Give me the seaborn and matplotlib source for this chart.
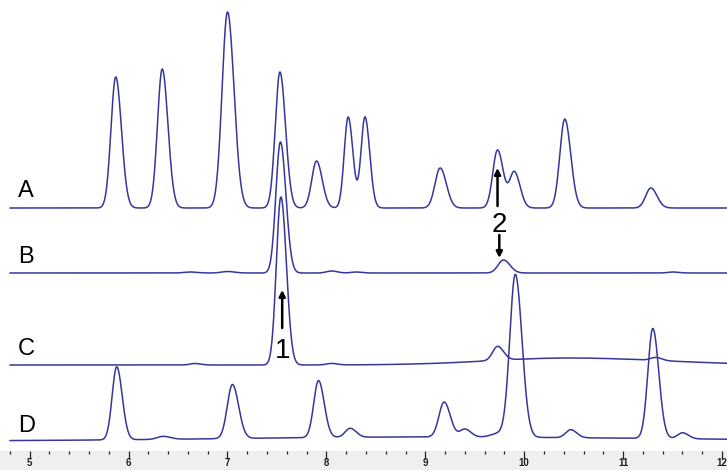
import numpy as np
import pandas as pd
import matplotlib.pyplot as plt
import seaborn as sns
from matplotlib.ticker import MultipleLocator

# peaks: retention time (min), height, width (min)
A_pos = [5.87, 6.34, 7.00, 7.53, 7.90, 8.22, 8.39, 9.15, 9.73, 9.90, 10.41, 11.28]
A_height = [131, 139, 196, 136, 47, 91, 91, 40, 58, 36, 89, 20]
A_width = [0.048, 0.048, 0.055, 0.047, 0.048, 0.040, 0.040, 0.052, 0.048, 0.048, 0.050, 0.052]

B_pos = [6.62, 7.00, 7.535, 8.05, 8.30, 9.79, 11.50]
B_height = [1, 1.5, 131, 2, 1, 13, 1]
B_width = [0.06, 0.06, 0.046, 0.05, 0.05, 0.055, 0.05]

C_pos = [6.67, 7.54, 8.05, 9.73, 11.33, 10.45]
C_height = [1.5, 168, 1.5, 14, 3, 7]
C_width = [0.05, 0.046, 0.05, 0.05, 0.05, 0.8]

D_pos = [5.88, 6.35, 7.05, 7.92, 8.24, 9.19, 9.40, 9.75, 9.91, 10.47, 11.30, 11.60, 9.0]
D_height = [73, 3, 54, 57, 9, 35, 8, 4, 162, 8, 110, 6, 4]
D_width = [0.046, 0.06, 0.052, 0.048, 0.05, 0.052, 0.05, 0.08, 0.056, 0.05, 0.05, 0.05, 2.0]

names = ["A", "B", "C", "D"]
offsets = [262, 197, 105, 29]


def signal(t, pos, height, width):
    y = np.zeros_like(t)
    for p, h, w in zip(pos, height, width):
        s = np.where(t < p, w, w * 1.2)   # slight tailing
        y += h * np.exp(-0.5 * ((t - p) / s) ** 2)
    return y


t = np.linspace(4.80, 12.05, 2000)
peaks = [(A_pos, A_height, A_width), (B_pos, B_height, B_width),
         (C_pos, C_height, C_width), (D_pos, D_height, D_width)]
frames = []
for name, off, (p, h, w) in zip(names, offsets, peaks):
    frames.append(pd.DataFrame({"time": t, "signal": off + signal(t, p, h, w), "trace": name}))
df = pd.concat(frames)

sns.set_style("white")
plt.rcParams["font.family"] = ["Liberation Sans", "DejaVu Sans"]

line_color = "#36369c"
fig = plt.figure(figsize=(7.27, 4.70), dpi=100)
ax = fig.add_axes([0, 0, 1, 1])
sns.lineplot(data=df, x="time", y="signal", units="trace", estimator=None,
             color=line_color, lw=1.1, ax=ax)
ax.set_xlim(4.70, 12.05)
ax.set_ylim(0, 470)
ax.axis("off")

label_y = [273, 207, 115, 38]
for name, y in zip(names, label_y):
    ax.text(4.965, y, name, fontsize=17, ha="center", va="baseline", color="black")

arrow = dict(arrowstyle="-|>", color="black", lw=1.8, mutation_scale=9, shrinkA=0, shrinkB=0)
ax.annotate("", xy=(7.553, 180), xytext=(7.553, 142), arrowprops=arrow)
ax.text(7.553, 112, "1", fontsize=20, ha="center", va="baseline", color="black")
ax.annotate("", xy=(9.730, 302), xytext=(9.730, 264), arrowprops=arrow)
ax.text(9.745, 238, "2", fontsize=20, ha="center", va="baseline", color="black")
ax.annotate("", xy=(9.748, 212), xytext=(9.748, 235), arrowprops=arrow)

# time axis strip
ax2 = fig.add_axes([0, 0, 1, 19 / 470])
ax2.set_facecolor("#efefef")
ax2.set_xlim(4.70, 12.05)
ax2.set_yticks([])
for s in ax2.spines.values():
    s.set_visible(False)
ax2.xaxis.set_major_locator(MultipleLocator(1))
ax2.xaxis.set_minor_locator(MultipleLocator(0.2))
ax2.tick_params(axis="x", which="both", direction="in", top=True, bottom=False,
                labelbottom=True, colors="#222222", width=0.9, pad=-8.5)
ax2.tick_params(axis="x", which="major", length=5.5, labelsize=7)
ax2.tick_params(axis="x", which="minor", length=2.2)
for lab in ax2.get_xticklabels():
    lab.set_fontweight("bold")

fig.savefig("out.png", dpi=100)
